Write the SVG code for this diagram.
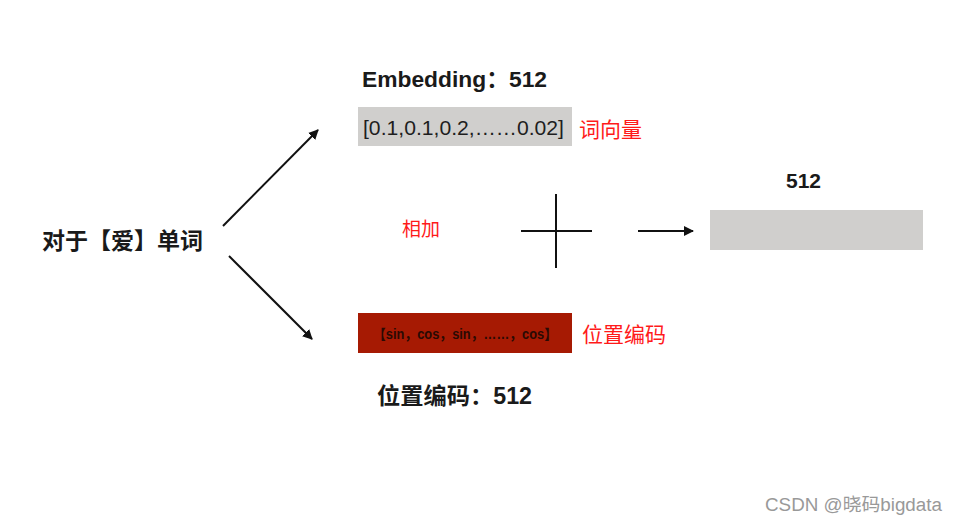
<svg xmlns="http://www.w3.org/2000/svg" width="956" height="525" viewBox="0 0 956 525">
<defs>
<marker id="ah" viewBox="0 0 10 10" refX="9" refY="5" markerWidth="10" markerHeight="10" markerUnits="userSpaceOnUse" orient="auto">
<path d="M0,0 L10,5 L0,10 z" fill="#111"/>
</marker>
<style>
.b{font-family:"Liberation Sans","Noto Sans CJK SC",sans-serif;font-weight:bold;fill:#1a1a1a}
.r{font-family:"Noto Sans CJK SC","Liberation Sans",sans-serif;fill:#ff1a1a}
.n{font-family:"Liberation Sans","Noto Sans CJK SC",sans-serif;fill:#1e1e1e}
.ln{stroke:#111;stroke-width:2;fill:none}
</style>
</defs>
<rect width="956" height="525" fill="#fff"/>
<g id="word">
<text class="b" x="42" y="249" font-size="23" textLength="161" lengthAdjust="spacingAndGlyphs">对于【爱】单词</text>
</g>
<g id="embedding">
<text class="b" x="362" y="87" font-size="22.5" textLength="185" lengthAdjust="spacingAndGlyphs">Embedding：512</text>
<rect x="358" y="107" width="214" height="39" fill="#d0cfcd"/>
<text class="n" x="363" y="135" font-size="21" textLength="201" lengthAdjust="spacingAndGlyphs">[0.1,0.1,0.2,……0.02]</text>
<text class="r" x="579" y="137" font-size="21">词向量</text>
</g>
<g id="posenc">
<rect x="358" y="313" width="214" height="40" fill="#a61a03"/>
<text class="b" x="373" y="339" font-size="14" style="fill:#2a0a04" textLength="184" lengthAdjust="spacingAndGlyphs">【sin，cos，sin，……，cos】</text>
<text class="r" x="582" y="342" font-size="21">位置编码</text>
<text class="b" x="377" y="404" font-size="23" textLength="155" lengthAdjust="spacingAndGlyphs">位置编码：512</text>
</g>
<g id="add">
<text class="r" x="402" y="236" font-size="19">相加</text>
<line class="ln" x1="521" y1="231" x2="592" y2="231"/>
<line class="ln" x1="556" y1="194" x2="556" y2="268"/>
</g>
<g id="result">
<text class="b" x="786" y="188" font-size="21">512</text>
<rect x="710" y="210" width="213" height="40" fill="#d0cfcd"/>
</g>
<g id="connectors">
<line class="ln" x1="223" y1="226" x2="318" y2="130" marker-end="url(#ah)"/>
<line class="ln" x1="229" y1="256" x2="312" y2="339" marker-end="url(#ah)"/>
<line class="ln" x1="638" y1="231" x2="693" y2="231" marker-end="url(#ah)"/>
</g>
<text x="765" y="511" font-family="Liberation Sans, Noto Sans CJK SC, sans-serif" font-size="18" fill="#999" textLength="177" lengthAdjust="spacingAndGlyphs">CSDN @晓码bigdata</text>
</svg>
